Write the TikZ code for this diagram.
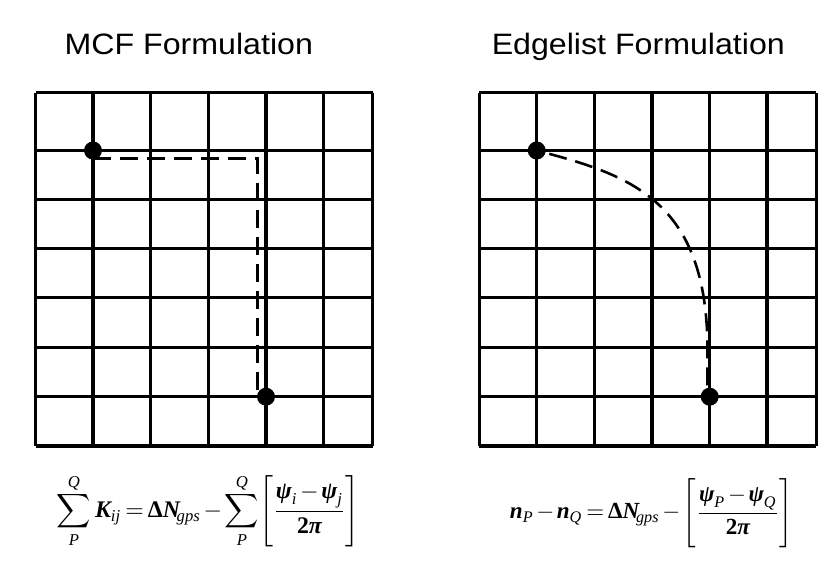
\documentclass[tikz,border=0pt]{standalone}
\usepackage{amsmath}
\usepackage{graphicx}
\usepackage{fontspec}
\setmainfont{Liberation Sans}
\newfontfamily\libserif{Liberation Serif}
\newcommand{\bi}[1]{\text{\libserif\bfseries\itshape #1}}
\newcommand{\si}[1]{\text{\libserif\itshape #1}}
\newcommand{\bu}[1]{\text{\libserif\bfseries #1}}
\newcommand{\tallstrut}{\vphantom{\rule[-2.2ex]{0pt}{5.2ex}}}
\begin{document}
\begin{tikzpicture}[x=1pt,y=-1pt,
  gridline/.style={line width=3.1pt,black},
  dot/.style={circle,fill=black,inner sep=0pt,minimum size=18pt},
  pathline/.style={line width=2.6pt,dash pattern=on 18pt off 9pt},
  title/.style={font=\fontsize{29.5}{35}\selectfont,anchor=base,inner sep=0pt},
  formula/.style={inner sep=0pt}]
\useasboundingbox[fill=white] (0,0) rectangle (833,567);
% grids
\foreach \dx in {0,443.7}{
  \begin{scope}[xshift=\dx pt]
  \foreach \x in {35.5,93,150.5,208.3,266,323.3,372.7}
    \draw[gridline] (\x,92.7) -- (\x,446);
  \foreach \y in {92.7,150.5,199.3,248.3,297.7,347.3,396.7,446}
    \draw[gridline] (35.5,\y) -- (372.7,\y);
  \end{scope}
}
% titles
\node[title] (t1) at (188.8,54.3) {\scalebox{1.09}[1]{MCF Formulation}};
\node[title] (t2) at (638.3,54.3) {\scalebox{1.09}[1]{Edgelist Formulation}};
% dots
\node[dot] (a) at (93,150.5) {};
\node[dot] (b) at (266,396.7) {};
\node[dot] (c) at (536.7,150.5) {};
\node[dot] (d) at (709.7,396.7) {};
% paths
\draw[pathline] ([yshift=-8pt]a.center) -| ([xshift=-8.5pt]b.center);
\draw[pathline,dash phase=14pt] (c.center) .. controls (630,175) and (707.5,200) .. (707.5,350) -- ([xshift=-2.2pt]d.center);
% formulas
\node[formula] (f1) at (208.3,510.8) {\resizebox{303pt}{!}{$\thickmuskip=3mu\medmuskip=2mu\displaystyle \sum_{\si{P}}^{\si{Q}}\bi{K}_{\si{ij}} = \bu{Δ}\bi{N}_{\!\si{gps}} - \sum_{\si{P}}^{\si{Q}}\!\left[\tallstrut\frac{\bi{ψ}_{\si{i}}-\bi{ψ}_{\si{j}}}{\bu{2}\bi{π}}\right]$}};
\node[formula] (f2) at (651.5,513) {\resizebox{283pt}{!}{$\thickmuskip=3mu\medmuskip=2mu\displaystyle \bi{n}_{\si{P}} - \bi{n}_{\si{Q}} = \bu{Δ}\bi{N}_{\!\si{gps}} - \left[\tallstrut\frac{\bi{ψ}_{\si{P}}-\bi{ψ}_{\si{Q}}}{\bu{2}\bi{π}}\right]$}};
\end{tikzpicture}
\end{document}
